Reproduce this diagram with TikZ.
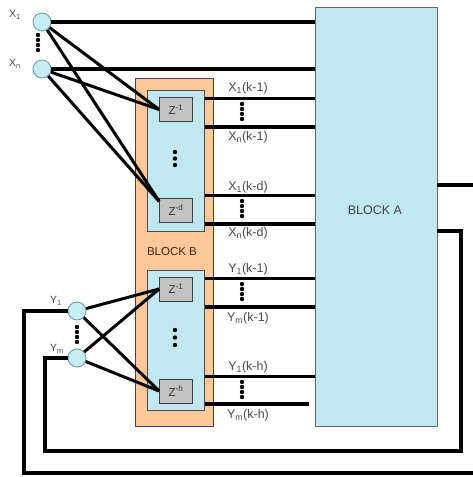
\documentclass[tikz,border=0pt]{standalone}
\usepackage{fontspec}
\setmainfont{Liberation Sans}
\usepackage{tikz}
\usetikzlibrary{calc,positioning}
\definecolor{blockblue}{HTML}{C1E8F1}
\definecolor{blockorange}{HTML}{FCC89B}
\definecolor{zgray}{HTML}{C3C3C3}
\definecolor{nodeblue}{HTML}{C8EEF5}
\definecolor{edgeblue}{HTML}{6A96A6}
\definecolor{frameblue}{HTML}{3D3B86}
\definecolor{labgray}{HTML}{4A4A4A}

\begin{document}
\begin{tikzpicture}[x=1pt,y=-1pt,
  signal/.style={circle,draw=edgeblue,fill=nodeblue,line width=0.8pt,minimum size=18pt,inner sep=0pt},
  zbox/.style={draw=black!75,fill=zgray,line width=0.8pt,minimum width=33pt,minimum height=24pt,inner sep=0pt,font=\fontsize{11.5}{12}\selectfont,text=black!80},
  panel/.style={line width=0.7pt,inner sep=0pt,anchor=north west},
  bus/.style={line width=4pt},
  tap/.style={line width=3pt},
  lab/.style={font=\fontsize{12.5}{13}\selectfont,text=labgray,inner sep=0pt},
  dot/.style={fill=black}]
  \clip (0,0) rectangle (473,477);
  % Blocks
  \node[panel,draw=black!60,fill=blockblue,minimum width=122pt,minimum height=419pt] (blockA) at (315,7) {};
  \node[font=\fontsize{12.5}{13}\selectfont,text=black!75] (labA) at (375,210) {BLOCK A};
  \node[panel,draw=frameblue,fill=blockorange,minimum width=78pt,minimum height=348pt] (blockB) at (135,78) {};
  \node[font=\fontsize{11.5}{12}\selectfont,text=black!70!orange] (labB) at (172,252) {BLOCK B};
  \node[panel,draw=black!70,fill=blockblue,minimum width=57pt,minimum height=141pt] (innerX) at (147,90) {};
  \node[panel,draw=black!70,fill=blockblue,minimum width=57pt,minimum height=140pt] (innerY) at (147,270) {};
  % Delay boxes
  \node[zbox] (z1x) at (176,109.5) {Z\textsuperscript{-1}};
  \node[zbox] (zdx) at (176,210) {Z\textsuperscript{-d}};
  \node[zbox] (z1y) at (176,289) {Z\textsuperscript{-1}};
  \node[zbox] (zhy) at (176,391) {Z\textsuperscript{-h}};
  \foreach \y in {152,158.5,165} \fill[dot] (175,\y) circle (2.2pt);
  \foreach \y in {330,337.5,345} \fill[dot] (175,\y) circle (2.2pt);
  % Input signals
  \node[signal] (x1) at (42,22) {};
  \node[signal] (xn) at (42,69) {};
  \node[signal] (y1) at (77,311) {};
  \node[signal] (ym) at (77,358) {};
  \node[lab,font=\fontsize{10.5}{11}\selectfont] (lx1) at (15,15) {X\textsubscript{1}};
  \node[lab,font=\fontsize{10.5}{11}\selectfont] (lxn) at (15,64) {X\textsubscript{n}};
  \node[lab,font=\fontsize{10.5}{11}\selectfont] (ly1) at (56,301) {Y\textsubscript{1}};
  \node[lab,font=\fontsize{10.5}{11}\selectfont] (lym) at (57,349) {Y\textsubscript{m}};
  \foreach \y in {35,40,45,50} \fill[dot] (38,\y) circle (2.2pt);
  \foreach \y in {327,332,337,342} \fill[dot] (77,\y) circle (2.2pt);
  % Inputs to block A and B
  \draw[bus] (x1) -- (x1 -| blockA.west);
  \draw[bus] (xn) -- (xn -| blockA.west);
  \coordinate (zdin) at ($(zdx.north west)!0.15!(zdx.south west)$);
  \foreach \s in {x1,xn} {
    \draw[tap] (\s) -- (z1x.west);
    \draw[tap] (\s) -- (zdin);
  }
  \foreach \s in {y1,ym} {
    \draw[tap] (\s) -- (z1y.west);
    \draw[tap] (\s) -- (zhy.west);
  }
  % Delayed outputs (y level / width / label / label y)
  \foreach \y/\w/\lab/\ly in {98/3pt/X\textsubscript{1}(k-1)/88, 127/3.6pt/X\textsubscript{n}(k-1)/137,
    195/3pt/X\textsubscript{1}(k-d)/187, 224/3.6pt/X\textsubscript{n}(k-d)/233,
    278/3pt/Y\textsubscript{1}(k-1)/269, 307/3.6pt/Y\textsubscript{m}(k-1)/318,
    376/3pt/Y\textsubscript{1}(k-h)/367} {
    \coordinate (o\y) at (0,\y);
    \draw[line width=\w] (innerX.east |- o\y) -- (blockA.west |- o\y);
    \node[lab] (t\y) at (248,\ly) {\lab};
  }
  \coordinate (o404) at (309,404);
  \draw[line width=3.6pt] (innerY.east |- o404) -- (o404);
  \node[lab] (t404) at (248,415) {Y\textsubscript{m}(k-h)};
  \foreach \c in {104,109,114,119, 201,206,211,216, 284,289,294,299, 382,387,392,397}
    \fill[dot] (242,\c) circle (2.2pt);
  % Feedback loops
  \coordinate (fa) at (437,185);
  \coordinate (fb) at (437,231);
  \draw[bus] (fa) -- (490,185) -- (490,473) -- (24,473) -- (24,311) -- (y1);
  \draw[bus] (fb) -- (461,231) -- (461,451) -- (45,451) -- (45,358) -- (ym);
\end{tikzpicture}
\end{document}
